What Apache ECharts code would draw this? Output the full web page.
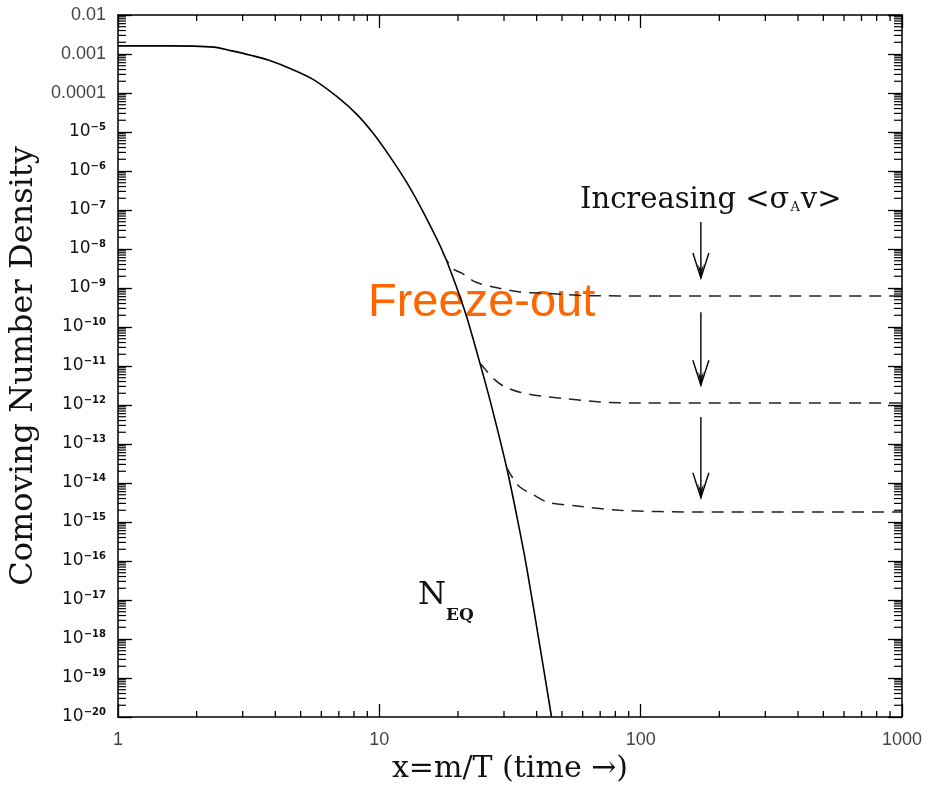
<!DOCTYPE html>
<html>
<head>
<meta charset="utf-8">
<script src="https://cdn.jsdelivr.net/npm/echarts@6/dist/echarts.min.js"></script>
<style>
  html, body { margin: 0; padding: 0; background: #fff; }
  #chart { width: 927px; height: 791px; }
</style>
</head>
<body>
<div id="chart"></div>
<script>
// equilibrium curve N_EQ
const eqX = [1, 1.57, 2.33, 2.7, 3.22, 3.74, 4.7, 5.6, 6.91, 8.24, 9.49, 11.0, 12.8, 14.8, 17.6, 19.8, 21.6, 23.9, 26.5, 30.7, 33.6, 36.6, 41.2, 45.6];
const eqY = [1.62e-3, 1.62e-3, 1.5e-3, 1.22e-3, 9.3e-4, 7.1e-4, 3.9e-4, 2.2e-4, 7.9e-5, 2.75e-5, 9.1e-6, 2.3e-6, 4.8e-7, 8.3e-8, 7.8e-9, 1.0e-9, 1.8e-10, 1.7e-11, 1.35e-12, 2.5e-14, 1.4e-15, 7.1e-17, 6.3e-19, 1e-20];

// freeze-out curves (dashed)
const fo1X = [17.5, 19.0, 20.7, 23.5, 28.5, 34.5, 41.2, 68, 1000];
const fo1Y = [7.9e-9, 3.2e-9, 2.4e-9, 1.4e-9, 1.0e-9, 7.9e-10, 7.4e-10, 6.3e-10, 6.2e-10];
const fo2X = [24.3, 27.7, 30.3, 34.8, 41.5, 50.4, 69.7, 99, 1000];
const fo2Y = [1.17e-11, 4.4e-12, 2.9e-12, 2.1e-12, 1.7e-12, 1.48e-12, 1.2e-12, 1.12e-12, 1.12e-12];
const fo3X = [30.7, 32.5, 34.5, 39.0, 44.2, 56.0, 83.1, 168, 1000];
const fo3Y = [2.5e-14, 1.3e-14, 7.9e-15, 4.9e-15, 3.2e-15, 2.6e-15, 2.0e-15, 1.8e-15, 1.8e-15];

// "increasing <sigma v>" arrows: x, from, to
const arrowX = [170, 170, 170];
const arrowFrom = [4.9e-8, 2.4e-10, 4.9e-13];
const arrowTo = [1.8e-9, 3.2e-12, 4.2e-15];

const xMin = 1, xMax = 1000;
const yMin = 1e-20, yMax = 1e-2;

// minor tick positions (2..9 per decade)
const xMinor = [];
for (let k = 0; k < 3; k++) for (let m = 2; m < 10; m++) xMinor.push([m * Math.pow(10, k), yMin]);
const yMinor = [];
for (let k = -20; k < -2; k++) for (let m = 2; m < 10; m++) yMinor.push([xMin, m * Math.pow(10, k)]);

const zip = (xs, ys) => xs.map((x, i) => [x, ys[i]]);

const chart = echarts.init(document.getElementById('chart'));

const lineStyleAxis = { color: '#000', width: 1.5 };

function yLabel(v) {
    const e = Math.round(Math.log10(v));
    if (e >= -4) return '{d|' + Math.pow(10, e).toFixed(-e) + '}';
    return '{t|10}{s|\u2212' + (-e) + '}';
}

const option = {
    animation: false,
    backgroundColor: '#fff',
    grid: { left: 117, right: 25, top: 15, bottom: 74 },
    xAxis: [{
        type: 'log', logBase: 10, min: xMin, max: xMax, interval: 1,
        position: 'bottom',
        axisLine: { lineStyle: lineStyleAxis },
        axisTick: { inside: true, length: 13, lineStyle: { color: '#000', width: 1.3 } },
        splitLine: { show: false },
        axisLabel: {
            fontFamily: 'Liberation Sans', fontSize: 18, color: '#444', margin: 14,
            formatter: v => String(Math.round(v))
        },
        name: 'x=m/T (time \u2192)',
        nameLocation: 'middle',
        nameGap: 36,
        nameTextStyle: { fontFamily: 'DejaVu Serif', fontSize: 30, color: '#111' }
    }, {
        type: 'log', logBase: 10, min: xMin, max: xMax, interval: 1,
        position: 'top',
        axisLine: { lineStyle: lineStyleAxis },
        axisTick: { inside: true, length: 13, lineStyle: { color: '#000', width: 1.3 } },
        splitLine: { show: false },
        axisLabel: { show: false }
    }],
    yAxis: [{
        type: 'log', logBase: 10, min: yMin, max: yMax, interval: 1,
        position: 'left',
        axisLine: { lineStyle: lineStyleAxis },
        axisTick: { inside: true, length: 14, lineStyle: { color: '#000', width: 1.3 } },
        splitLine: { show: false },
        axisLabel: {
            margin: 12,
            formatter: yLabel,
            rich: {
                d: { fontFamily: 'Liberation Sans', fontSize: 18, color: '#444' },
                t: { fontFamily: 'DejaVu Sans', fontSize: 17, color: '#111' },
                s: { fontFamily: 'DejaVu Sans', fontSize: 10, color: '#111', fontWeight: 'bold', padding: [0, 0, 10, 0] }
            }
        },
        name: 'Comoving Number Density',
        nameLocation: 'middle',
        nameGap: 66,
        nameTextStyle: { fontFamily: 'DejaVu Serif', fontSize: 32, color: '#111' }
    }, {
        type: 'log', logBase: 10, min: yMin, max: yMax, interval: 1,
        position: 'right',
        axisLine: { lineStyle: lineStyleAxis },
        axisTick: { inside: true, length: 14, lineStyle: { color: '#000', width: 1.3 } },
        splitLine: { show: false },
        axisLabel: { show: false }
    }],
    graphic: [
        {
            type: 'text', left: 580, top: 186,
            style: {
                text: '{a|Increasing <\u03c3}{b|A}{a|v>}',
                rich: {
                    a: { fontFamily: 'DejaVu Serif', fontSize: 29, fill: '#111' },
                    b: { fontFamily: 'DejaVu Serif', fontSize: 13, fill: '#111', padding: [14, 1, 0, 1] }
                }
            }
        },
        {
            type: 'text', left: 368, top: 280,
            style: { text: 'Freeze-out', fontFamily: 'Liberation Sans', fontSize: 47, fill: '#ff6600' }
        },
        {
            type: 'text', left: 418, top: 580,
            style: { text: 'N', fontFamily: 'DejaVu Serif', fontSize: 32, fill: '#111' }
        },
        {
            type: 'text', left: 446, top: 607,
            style: { text: 'EQ', fontFamily: 'DejaVu Serif', fontSize: 17, fontWeight: 'bold', fill: '#111' }
        }
    ],
    series: [
        {
            type: 'line', name: 'NEQ', data: zip(eqX, eqY),
            showSymbol: false, smooth: 0.3,
            lineStyle: { color: '#000', width: 1.6 }
        },
        {
            type: 'line', data: zip(fo1X, fo1Y), showSymbol: false, smooth: 0.3,
            lineStyle: { color: '#222', width: 1.5, type: [12, 8] }
        },
        {
            type: 'line', data: zip(fo2X, fo2Y), showSymbol: false, smooth: 0.3,
            lineStyle: { color: '#222', width: 1.5, type: [12, 8] }
        },
        {
            type: 'line', data: zip(fo3X, fo3Y), showSymbol: false, smooth: 0.3,
            lineStyle: { color: '#222', width: 1.5, type: [12, 8] }
        },
        {
            // arrows
            type: 'custom',
            data: arrowX.map((x, i) => [x, arrowFrom[i], arrowTo[i]]),
            encode: { x: 0, y: [1, 2] },
            renderItem: function (params, api) {
                const a = api.coord([api.value(0), api.value(1)]);
                const b = api.coord([api.value(0), api.value(2)]);
                const x = a[0], tip = b[1];
                const st = { stroke: '#000', lineWidth: 1.4, fill: null };
                return {
                    type: 'group',
                    children: [
                        { type: 'line', shape: { x1: x, y1: a[1], x2: x, y2: tip }, style: st },
                        { type: 'polyline', shape: { points: [[x - 8, tip - 25], [x, tip], [x + 8, tip - 25]] }, style: st },
                        { type: 'polygon', shape: { points: [[x - 3, tip - 14], [x, tip], [x + 3, tip - 14], [x, tip - 8]] }, style: { fill: '#000' } }
                    ]
                };
            }
        },
        {
            // minor ticks on x axes
            type: 'custom', silent: true,
            data: xMinor,
            renderItem: function (params, api) {
                const b = api.coord([api.value(0), yMin]);
                const t = api.coord([api.value(0), yMax]);
                const st = { stroke: '#000', lineWidth: 1.3 };
                return {
                    type: 'group',
                    children: [
                        { type: 'line', shape: { x1: b[0], y1: b[1], x2: b[0], y2: b[1] - 6 }, style: st },
                        { type: 'line', shape: { x1: t[0], y1: t[1], x2: t[0], y2: t[1] + 6 }, style: st }
                    ]
                };
            }
        },
        {
            // minor ticks on y axes
            type: 'custom', silent: true,
            data: yMinor,
            renderItem: function (params, api) {
                const l = api.coord([xMin, api.value(1)]);
                const r = api.coord([xMax, api.value(1)]);
                const st = { stroke: '#000', lineWidth: 1.2 };
                return {
                    type: 'group',
                    children: [
                        { type: 'line', shape: { x1: l[0], y1: l[1], x2: l[0] + 8, y2: l[1] }, style: st },
                        { type: 'line', shape: { x1: r[0], y1: r[1], x2: r[0] - 8, y2: r[1] }, style: st }
                    ]
                };
            }
        }
    ]
};

chart.setOption(option);
window.addEventListener('resize', () => chart.resize());
</script>
</body>
</html>
